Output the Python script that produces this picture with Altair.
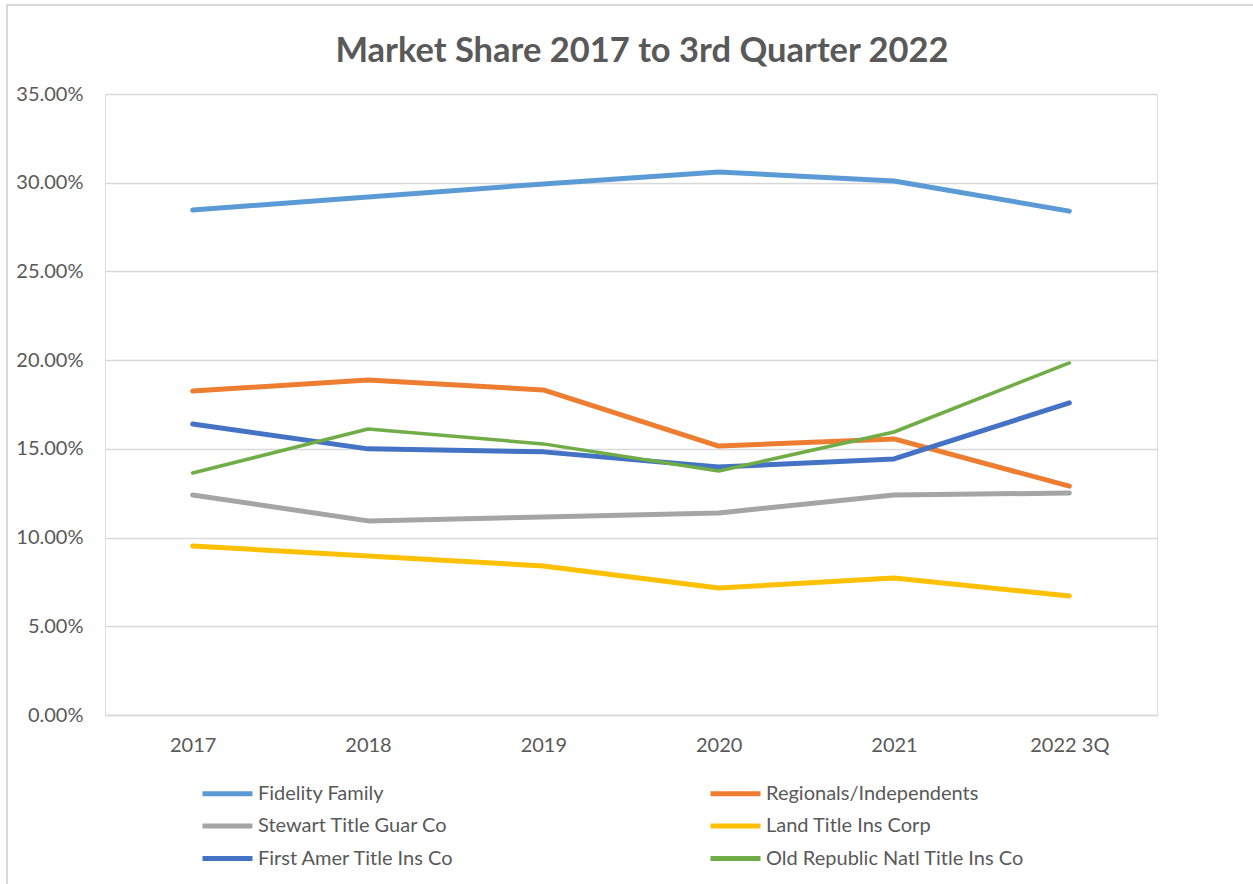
import altair as alt
import pandas as pd

years = ["2017", "2018", "2019", "2020", "2021", "2022 3Q"]
series = [
    "Fidelity Family",
    "Regionals/Independents",
    "Stewart Title Guar Co",
    "Land Title Ins Corp",
    "First Amer Title Ins Co",
    "Old Republic Natl Title Ins Co",
]
colors = ["#5B9BD5", "#ED7D31", "#A5A5A5", "#FFC000", "#4472C4", "#70AD47"]

fidelity = [0.2846, 0.2920, 0.2993, 0.3060, 0.3010, 0.2840]
regionals = [0.1826, 0.1888, 0.1832, 0.1516, 0.1556, 0.1290]
stewart = [0.1240, 0.1094, 0.1116, 0.1139, 0.1240, 0.1251]
land = [0.0953, 0.0896, 0.0840, 0.0716, 0.0772, 0.0671]
first_amer = [0.1640, 0.1500, 0.1483, 0.1398, 0.1443, 0.1759]
old_republic = [0.1364, 0.1612, 0.1528, 0.1375, 0.1595, 0.1984]

values = [fidelity, regionals, stewart, land, first_amer, old_republic]
widths = [5, 5, 5, 5, 5, 3.5]

rows = []
for name, vals, w in zip(series, values, widths):
    for yr, v in zip(years, vals):
        rows.append({"Year": yr, "Share": v, "Series": name, "W": w})
df = pd.DataFrame(rows)

FONT = "Lato"
GREY = "#595959"

lines = alt.Chart(df).mark_line(strokeCap="round", strokeJoin="round").encode(
    x=alt.X("Year:N", sort=years, title=None,
            scale=alt.Scale(type="point", padding=0.5),
            axis=alt.Axis(labelAngle=0, ticks=False, domain=True, domainColor="#D9D9D9",
                          domainWidth=1.5, labelFontSize=20, labelColor=GREY,
                          labelFont=FONT, labelPadding=20, grid=False)),
    y=alt.Y("Share:Q", title=None,
            scale=alt.Scale(domain=[0, 0.35], nice=False),
            axis=alt.Axis(format=".2%", values=[0, 0.05, 0.10, 0.15, 0.20, 0.25, 0.30, 0.35],
                          ticks=False, domain=False, gridColor="#D9D9D9", gridWidth=1.5,
                          labelFontSize=20, labelColor=GREY, labelFont=FONT, labelPadding=22)),
    color=alt.Color("Series:N", sort=series,
                    scale=alt.Scale(domain=series, range=colors),
                    legend=alt.Legend(title=None, orient="none", legendX=110, legendY=687,
                                      columns=2, direction="horizontal",
                                      symbolType="M-2.5,0H2.5", symbolSize=400,
                                      symbolStrokeWidth=5,
                                      labelFontSize=20, labelFont=FONT,
                                      labelColor=GREY, labelOffset=18, rowPadding=9.5,
                                      columnPadding=245, labelLimit=400)),
    strokeWidth=alt.StrokeWidth("W:Q", scale=None, legend=None),
    order=alt.Order("Series:N", sort="ascending"),
)

border = alt.Chart(pd.DataFrame({"a": [0]})).mark_rect(
    fill=None, stroke="#D9D9D9", strokeWidth=2, clip=False
).encode(
    x=alt.value(-98), x2=alt.value(1300), y=alt.value(-89), y2=alt.value(900)
)

chart = alt.layer(border, lines).properties(
    width=1052,
    height=621,
    autosize=alt.AutoSizeParams(type="none"),
    padding={"left": 105, "top": 94, "right": 96, "bottom": 169},
    title=alt.Title("Market Share 2017 to 3rd Quarter 2022", fontSize=34.5, font=FONT,
                    fontWeight="bold", color=GREY, anchor="middle", dx=11, offset=-65),
).configure_view(stroke=None).configure(background="white")

chart.save("out.html", embed_options={"renderer": "svg", "actions": False})
